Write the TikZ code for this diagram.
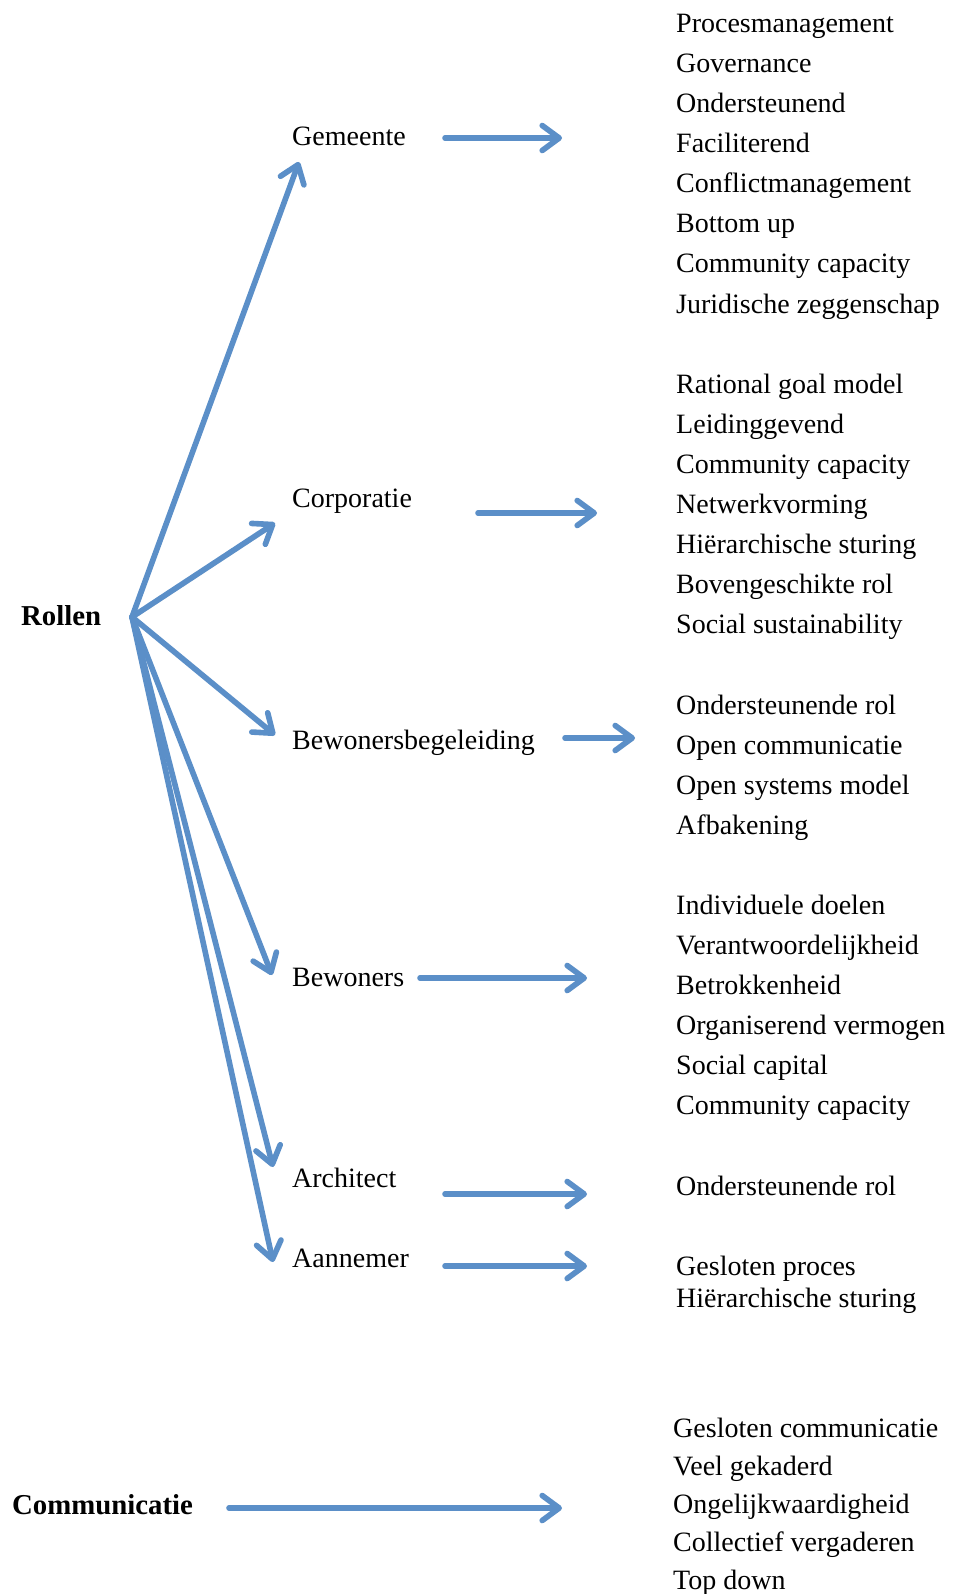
\documentclass[tikz,border=0pt]{standalone}
\usepackage{fontspec}
\setmainfont{Liberation Serif}
\usetikzlibrary{arrows.meta}
\definecolor{arrowblue}{HTML}{5B8FC8}
\begin{document}
\begin{tikzpicture}[x=1pt,y=-1pt,
  lbl/.style={anchor=base west, inner sep=0pt, font=\fontsize{28}{33}\selectfont},
  head/.style={anchor=base west, inner sep=0pt, font=\fontsize{28.8}{34}\selectfont\bfseries},
  link/.style={draw=arrowblue, line width=5.6pt, line cap=round,
    -{Straight Barb[length=17pt,width=25pt,line cap=round,line join=round]},
    preaction={draw=black!70, opacity=0.22, transform canvas={shift={(1.2pt,-2.2pt)}}}}]
\useasboundingbox[fill=white] (0,0) rectangle (955,1594);

% left-hand headings
\node[head] (rollen) at (21,625) {Rollen};
\node[head] (comm) at (12,1514) {Communicatie};

% roles
\node[lbl] (gem) at (292,146) {Gemeente};
\node[lbl] (cor) at (292,507) {Corporatie};
\node[lbl] (beg) at (292,749) {Bewonersbegeleiding};
\node[lbl] (bew) at (292,986) {Bewoners};
\node[lbl] (arc) at (292,1187) {Architect};
\node[lbl] (aan) at (292,1267) {Aannemer};

% characteristics per role
\foreach \t [count=\i from 0] in {Procesmanagement, Governance, Ondersteunend, Faciliterend,
  Conflictmanagement, Bottom up, Community capacity, Juridische zeggenschap}
  \node[lbl] (gemL\i) at (676,{33+40*\i}) {\t};
\foreach \t [count=\i from 0] in {Rational goal model, Leidinggevend, Community capacity,
  Netwerkvorming, Hiërarchische sturing, Bovengeschikte rol, Social sustainability}
  \node[lbl] (corL\i) at (676,{393+40*\i}) {\t};
\foreach \t [count=\i from 0] in {Ondersteunende rol, Open communicatie, Open systems model, Afbakening}
  \node[lbl] (begL\i) at (676,{714+40*\i}) {\t};
\foreach \t [count=\i from 0] in {Individuele doelen, Verantwoordelijkheid, Betrokkenheid,
  Organiserend vermogen, Social capital, Community capacity}
  \node[lbl] (bewL\i) at (676,{914+40*\i}) {\t};
\node[lbl] (arcL0) at (676,1195) {Ondersteunende rol};
\node[lbl] (aanL0) at (676,1275) {Gesloten proces};
\node[lbl] (aanL1) at (676,1307) {Hiërarchische sturing};
\foreach \t [count=\i from 0] in {Gesloten communicatie, Veel gekaderd, Ongelijkwaardigheid,
  Collectief vergaderen, Top down}
  \node[lbl] (comL\i) at (673,{1437+38*\i}) {\t};

% fan of arrows out of Rollen
\coordinate (o) at (132,617);
\coordinate (gemT) at (299,162);
\coordinate (corT) at (275,523);
\coordinate (begT) at (275,735);
\coordinate (bewT) at (272,975);
\coordinate (arcT) at (273,1167);
\coordinate (aanT) at (273,1262);
\foreach \c in {gemT,corT,begT,bewT,arcT,aanT}
  \draw[link] (o) -- (\c);

% arrows from each role to its characteristics
\coordinate (gemA) at (445,138);  \coordinate (gemB) at (562,138);
\coordinate (corA) at (478,513);  \coordinate (corB) at (597,513);
\coordinate (begA) at (565,738);  \coordinate (begB) at (635,738);
\coordinate (bewA) at (420,978);  \coordinate (bewB) at (587,978);
\coordinate (arcA) at (445,1194); \coordinate (arcB) at (587,1194);
\coordinate (aanA) at (445,1266); \coordinate (aanB) at (587,1266);
\coordinate (comA) at (229,1508); \coordinate (comB) at (562,1508);
\foreach \c in {gem,cor,beg,bew,arc,aan,com}
  \draw[link] (\c A) -- (\c B);
\end{tikzpicture}
\end{document}
